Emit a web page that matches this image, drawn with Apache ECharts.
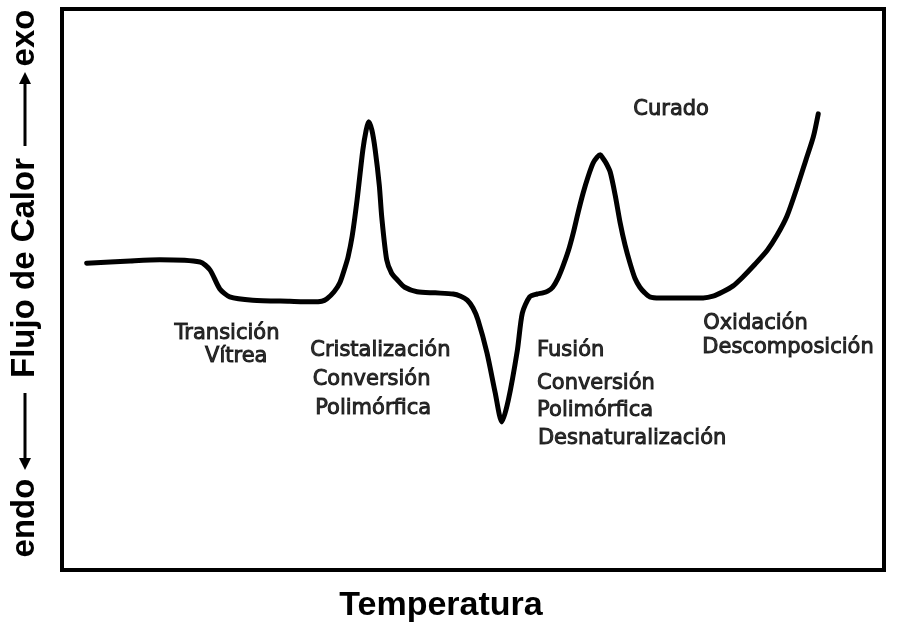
<!DOCTYPE html>
<html>
<head>
<meta charset="utf-8">
<script src="https://cdn.jsdelivr.net/npm/echarts@6/dist/echarts.min.js"></script>
<style>
  html, body { margin: 0; padding: 0; background: #fff; }
  #chart { width: 899px; height: 627px; }
</style>
</head>
<body>
<div id="chart"></div>
<script>
// DSC curve, temperature (0-100) vs heat flow (0-100)
const temperature = [
  3.0, 8.3, 11.9, 16.8, 18.0, 19.2, 20.4, 23.2, 27.7, 30.5, 31.6, 32.2, 33.1, 33.8,
  34.4, 34.8, 35.3, 35.9, 36.6, 37.0, 37.3, 37.7, 38.1, 38.6, 38.9, 39.5, 40.1, 40.8,
  41.7, 43.2, 45.4, 47.6, 48.5, 49.3, 50.0, 50.6, 51.7, 52.7, 53.5,
  54.3, 55.4, 56.0, 56.9, 57.8, 58.5, 59.1, 59.7, 60.3, 60.9,
  61.6, 62.2, 62.8, 63.4, 64.0, 64.6, 65.1, 65.5, 65.8, 66.2, 66.7, 67.3, 67.9, 68.5,
  69.1, 69.7, 70.3, 70.9, 71.5, 72.7, 75.2, 78.0, 79.2, 80.4, 81.6, 82.8, 84.3, 85.8,
  87.0, 88.2, 89.4, 90.5, 91.4, 92.0
]
const heatFlow = [
  54.7, 55.1, 55.3, 54.9, 53.5, 50.1, 48.7, 48.1, 47.9, 47.8, 47.9, 48.3, 49.6, 51.2,
  53.8, 55.8, 59.5, 66.0, 74.9, 78.4, 79.9, 78.4, 74.9, 68.6, 62.9, 55.3, 52.9, 51.7,
  50.4, 49.6, 49.4, 49.2, 48.8, 48.1, 46.7, 44.6, 38.7, 31.6, 26.4,
  30.3, 39.2, 45.8, 48.7, 49.2, 49.4, 49.7, 50.4, 51.9, 54.0,
  56.9, 60.1, 63.8, 67.2, 70.1, 72.5, 73.6, 74.0, 73.4, 72.5, 70.9, 66.8, 61.9, 57.9,
  54.7, 52.0, 50.4, 49.4, 48.7, 48.5, 48.5, 48.5, 48.8, 49.6, 50.6, 52.2, 54.5, 57.0,
  59.7, 63.1, 68.1, 73.1, 77.2, 81.3
]

// event labels: left edge (temperature), line middle (heat flow), text
const labelX = [13.7, 17.4, 30.2, 30.5, 30.8, 57.8, 57.8, 57.8, 57.9, 69.5, 78.0, 77.9]
const labelY = [42.2, 38.1, 39.2, 33.9, 28.7, 39.2, 33.2, 28.5, 23.5, 82.0, 44.0, 39.6]
const labelText = [
  'Transición', 'Vítrea',
  'Cristalización', 'Conversión', 'Polimórfica',
  'Fusión', 'Conversión', 'Polimórfica', 'Desnaturalización',
  'Curado',
  'Oxidación', 'Descomposición'
]

const curve = temperature.map((t, i) => [t, heatFlow[i]])
const labels = labelX.map((x, i) => ({ value: [x, labelY[i]], name: labelText[i] }))

const titleFont = 'bold 33px "Liberation Sans", Arial, sans-serif'
const rotatedText = (text, y) => ({
  type: 'text', x: 25, y: y, rotation: Math.PI / 2,
  style: { text: text, fill: '#000', font: titleFont, align: 'center', verticalAlign: 'middle' }
})

const chart = echarts.init(document.getElementById('chart'))
chart.setOption({
  animation: false,
  grid: {
    left: 62, right: 15, top: 9, bottom: 57,
    show: true, borderColor: '#000', borderWidth: 4
  },
  xAxis: {
    type: 'value', min: 0, max: 100,
    axisLine: { show: false }, axisTick: { show: false },
    axisLabel: { show: false }, splitLine: { show: false }
  },
  yAxis: {
    type: 'value', min: 0, max: 100,
    axisLine: { show: false }, axisTick: { show: false },
    axisLabel: { show: false }, splitLine: { show: false }
  },
  graphic: [
    {
      type: 'text', x: 441, y: 606,
      style: {
        text: 'Temperatura', fill: '#000',
        font: 'bold 34px "Liberation Sans", Arial, sans-serif',
        align: 'center', verticalAlign: 'middle'
      }
    },
    rotatedText('exo', 38),
    rotatedText('Flujo de Calor', 268),
    rotatedText('endo', 518),
    // up arrow (exo)
    { type: 'line', shape: { x1: 25, y1: 146, x2: 25, y2: 82 }, style: { stroke: '#000', lineWidth: 3 } },
    { type: 'polygon', shape: { points: [[25, 72], [19, 84], [31, 84]] }, style: { fill: '#000' } },
    // down arrow (endo)
    { type: 'line', shape: { x1: 25, y1: 393, x2: 25, y2: 458 }, style: { stroke: '#000', lineWidth: 3 } },
    { type: 'polygon', shape: { points: [[25, 470], [19, 458], [31, 458]] }, style: { fill: '#000' } }
  ],
  series: [
    {
      type: 'line',
      data: curve,
      smooth: 0.25,
      showSymbol: false,
      lineStyle: { color: '#000', width: 5, cap: 'round', join: 'round' }
    },
    {
      type: 'scatter',
      data: labels,
      symbolSize: 0,
      label: {
        show: true,
        position: [0, 0],
        align: 'left',
        verticalAlign: 'middle',
        formatter: '{b}',
        color: '#000',
        textBorderColor: '#000',
        textBorderWidth: 1,
        fontFamily: '"DejaVu Sans", sans-serif',
        fontSize: 21
      }
    }
  ]
})
</script>
</body>
</html>
